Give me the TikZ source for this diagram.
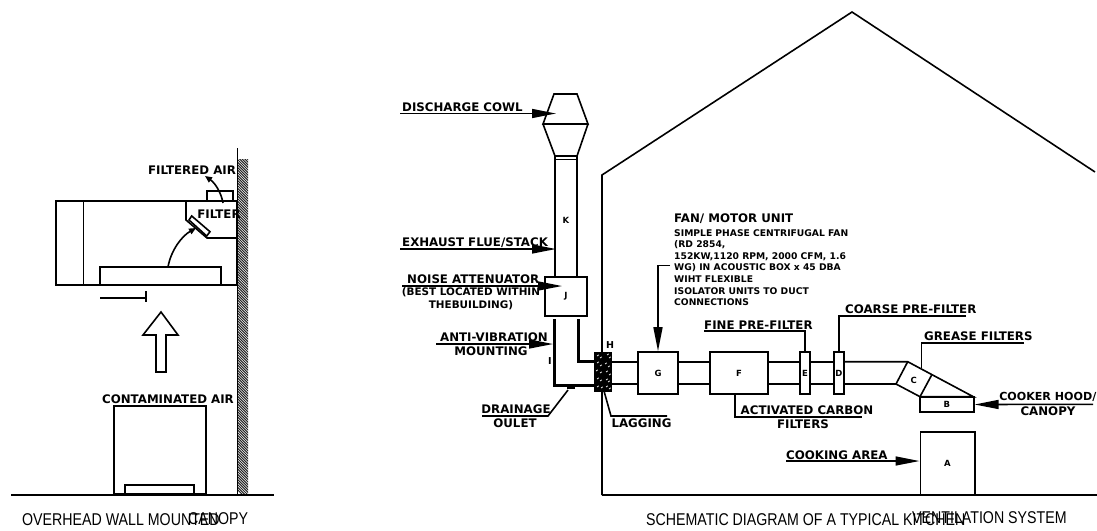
\documentclass[tikz,border=0pt]{standalone}
\usepackage{fontspec}
\setmainfont{DejaVu Sans}
\newfontfamily\capfont{Liberation Sans}
\usetikzlibrary{arrows.meta}
\newcommand{\captxt}[1]{\scalebox{1}[1.2]{#1}}
\tikzset{
  x=1pt,y=-1pt,
  ln/.style={line width=1.6pt,black},
  thinln/.style={line width=1.1pt,black},
  thickduct/.style={line width=3pt,black},
  boxn/.style={draw,line width=1.6pt,fill=white,inner sep=0pt,font=\bfseries\fontsize{8.5}{9}\selectfont},
  letter/.style={inner sep=0pt,font=\bfseries\fontsize{8.5}{9}\selectfont},
  bigletter/.style={inner sep=0pt,font=\bfseries\fontsize{9.5}{10}\selectfont},
  lab/.style={inner sep=0pt,font=\bfseries\fontsize{11.8}{14}\selectfont,align=center},
  cookerlab/.style={inner sep=0pt,font=\bfseries\fontsize{11.1}{14}\selectfont,align=center},
  smalllab/.style={inner sep=0pt,font=\bfseries\fontsize{9.2}{11.6}\selectfont,align=left,anchor=north west},
  midlab/.style={inner sep=0pt,font=\bfseries\fontsize{10.4}{13}\selectfont,align=center},
  captext/.style={inner sep=0pt,font=\capfont\fontsize{14.2}{16}\selectfont},
  pointer/.style={line width=1.6pt,-{Triangle[length=24pt,width=9pt]}},
  curvedarrow/.style={line width=1.6pt,-{Triangle[length=7pt,width=6pt]}},
}
\begin{document}
\begin{tikzpicture}
\useasboundingbox (0,0) rectangle (1097,530);
% ---------- left: wall canopy ----------
\begin{scope}
\clip (238,159) rectangle (248,494);
\foreach \i in {0,2.6,...,345}{\draw[line width=1pt,black!85] (236,{145+\i}) -- (250,{159+\i});}
\end{scope}
\coordinate (wtop) at (237.5,148);
\coordinate (wbot) at (237.5,494);
\draw[ln] (wtop) -- (wbot);
\coordinate (fl) at (11,495);
\coordinate (fr) at (274,495);
\draw[line width=1.7pt] (fl) -- (fr);
\node[draw,line width=1.6pt,minimum width=181pt,minimum height=84pt,inner sep=0pt] (canopy) at (146.5,243) {};
\coordinate (cv1) at (83.5,201);
\coordinate (cv2) at (83.5,285);
\draw[ln] (cv1) -- (cv2);
\node[draw,line width=1.6pt,minimum width=121pt,minimum height=18pt,inner sep=0pt] (hood) at (160.5,276) {};
\node[draw,line width=1.6pt,minimum width=26pt,minimum height=10pt,inner sep=0pt] (outlet) at (220,196) {};
\coordinate (d1) at (186,201);
\coordinate (d2) at (186,220);
\coordinate (d3) at (207,238);
\coordinate (d4) at (237,238);
\draw[ln] (d1) -- (d2) -- (d3) -- (d4);
\draw[ln,fill=white] (191.7,216) -- (210,231.7) -- (206.7,236) -- (189,220) -- cycle;
\coordinate (a1) at (168,267);
\coordinate (a2) at (196,228);
\draw[curvedarrow] (a1) .. controls (171,250) and (182,236) .. (a2);
\coordinate (a3) at (223,203);
\coordinate (a4) at (205,176);
\draw[curvedarrow] (a3) .. controls (221,192) and (215,183) .. (a4);
\coordinate (t1) at (100,298);
\coordinate (t2) at (146,298);
\coordinate (t3) at (146,291);
\coordinate (t4) at (146,302);
\draw[ln] (t1) -- (t2);
\draw[thinln] (t3) -- (t4);
\draw[ln] (161,312) -- (178,335) -- (166,335) -- (166,372) -- (156,372) -- (156,335) -- (143,335) -- cycle;
\node[draw,line width=1.6pt,minimum width=91.5pt,minimum height=88pt,inner sep=0pt] (stove) at (160,450) {};
\node[draw,line width=1.6pt,minimum width=69pt,minimum height=9pt,inner sep=0pt] (stovebase) at (159.5,489.5) {};
\node[lab] (lfa) at (192,170) {FILTERED AIR};
\node[lab] (lf) at (219,214) {FILTER};
\node[lab] (lca) at (168,399) {CONTAMINATED AIR};
\node[captext,anchor=west] (c1) at (22,520) {\captxt{OVERHEAD WALL MOUNTED}};
\node[captext,anchor=west] (c2) at (188,519) {\captxt{CANOPY}};
% ---------- right: building ----------
\coordinate (h1) at (602,495);
\coordinate (h2) at (602,175);
\coordinate (h3) at (852,12);
\coordinate (h4) at (1095,172);
\coordinate (h5) at (1097,495);
\draw[ln] (h4) -- (h3) -- (h2) -- (h1);
\draw[line width=1.7pt] (h1) -- (h5);
% cowl and flue
\draw[ln] (554,94) -- (577,94) -- (588,124) -- (543,124) -- cycle;
\draw[ln] (543,124) -- (555,156) -- (577,156) -- (588,124);
\coordinate (fa) at (555,156);
\coordinate (fb) at (577,156);
\coordinate (fc) at (555,277);
\coordinate (fd) at (577,277);
\coordinate (fe) at (555,159.5);
\coordinate (ff) at (577,159.5);
\draw[ln] (fa) -- (fc);
\draw[ln] (fb) -- (fd);
\draw[ln] (fe) -- (ff);
\node[letter] (K) at (566,220) {K};
% J
\node[boxn,minimum width=42pt,minimum height=39pt] (J) at (566,296.5) {J};
% thick duct
\coordinate (i1) at (554,319);
\coordinate (i2) at (554,385);
\coordinate (i3) at (578,319);
\coordinate (i4) at (578,361);
\coordinate (i5) at (594,361);
\coordinate (i6) at (594,385);
\draw[thickduct] (i1) -- (i2) -- (i6);
\draw[thickduct] (i3) -- (i4) -- (i5);
\node[bigletter] (I) at (550,361) {I};
\node[bigletter] (H) at (610,345) {H};
% lagging
\node[draw=black,fill=black,minimum width=17pt,minimum height=39pt,inner sep=0pt] (lag) at (602.5,371.5) {};
\foreach \x/\y in {597/356,600/358,607/355,609/358,597/363,600/366,605/364,608/367,596/371,600/373,606/372,609/375,597/379,600/381,606/380,608/382,597/387,601/388,606/387,609/389}{
  \draw[white,line width=.7pt] (\x,\y) -- ++(1.8,-1.2);
}
% drain
\node[fill=black,minimum width=8pt,minimum height=3pt,inner sep=0pt] (drain) at (571,387.5) {};
% duct run
\node[boxn,minimum width=40pt,minimum height=42pt] (G) at (658,373) {G};
\node[boxn,minimum width=58pt,minimum height=42pt] (F) at (739,373) {F};
\node[boxn,minimum width=10pt,minimum height=42pt] (E) at (805,373) {E};
\node[boxn,minimum width=10pt,minimum height=42pt] (D) at (839,373) {D};
\foreach \y in {362,384}{
  \draw[ln] (611,\y) -- (638,\y);
  \draw[ln] (678,\y) -- (710,\y);
  \draw[ln] (768,\y) -- (800,\y);
  \draw[ln] (810,\y) -- (834,\y);
}
\coordinate (ct) at (907.7,361.7);
\coordinate (cb) at (896,384);
\coordinate (cc) at (920,396.7);
\coordinate (cd) at (931.7,375);
\coordinate (ce) at (973.3,396.7);
\coordinate (dt) at (844,361.7);
\coordinate (db) at (844,384);
\draw[ln] (dt) -- (ct) -- (ce) -- (cc) -- (cb) -- (db);
\draw[ln] (ct) -- (cb);
\draw[ln] (cc) -- (cd);
\node[letter] (C) at (913.7,380) {C};
\node[boxn,minimum width=54pt,minimum height=15pt] (B) at (946.8,404.5) {B};
\node[boxn,minimum width=54.4pt,minimum height=63pt] (A) at (947.5,463.5) {A};
% labels + leaders
\node[lab,anchor=west] (t1a) at (402,107) {DISCHARGE COWL};
\coordinate (p1) at (400,113.5);
\coordinate (q1) at (556,113.5);
\draw[pointer] (p1) -- (q1);
\node[lab,anchor=west] (t2a) at (402,243) {EXHAUST FLUE/STACK};
\coordinate (p2) at (400,249);
\coordinate (q2) at (556,249);
\draw[pointer] (p2) -- (q2);
\node[lab,anchor=west] (t3a) at (407,279) {NOISE ATTENUATOR};
\node[midlab] (t3b) at (471,299) {(BEST LOCATED WITHIN\\THEBUILDING)};
\coordinate (p3) at (402,286);
\coordinate (q3) at (562,286);
\draw[pointer] (p3) -- (q3);
\node[lab] (t4a) at (494,337) {ANTI-VIBRATION};
\node[lab] (t4b) at (491,351) {MOUNTING};
\coordinate (p4) at (436,344);
\coordinate (q4) at (553,344);
\draw[pointer] (p4) -- (q4);
\node[lab] (t5a) at (516,409) {DRAINAGE};
\node[lab] (t5b) at (515,423) {OULET};
\coordinate (p5) at (482,416);
\coordinate (q5) at (548,416);
\coordinate (r5) at (568,390);
\draw[ln] (p5) -- (q5) -- (r5);
\node[lab] (t6) at (641.5,423) {LAGGING};
\coordinate (p6) at (667,416);
\coordinate (q6) at (611,416);
\coordinate (r6) at (604,391);
\draw[ln] (p6) -- (q6) -- (r6);
\node[lab,anchor=west] (t7) at (674,219) {FAN/ MOTOR UNIT};
\node[smalllab] (t8) at (674,229) {SIMPLE PHASE CENTRIFUGAL FAN\\(RD 2854,\\152KW,1120 RPM, 2000 CFM, 1.6\\WG) IN ACOUSTIC BOX x 45 DBA\\WIHT FLEXIBLE\\ISOLATOR UNITS TO DUCT\\CONNECTIONS};
\coordinate (p7) at (670,265.5);
\coordinate (q7) at (658,265.5);
\draw[pointer] (p7) -- (q7) -- (G.north);
\node[lab,anchor=west] (t9) at (704,325) {FINE PRE-FILTER};
\coordinate (p8) at (704,331);
\coordinate (q8) at (805,331);
\draw[ln] (p8) -- (q8) -- (E.north);
\node[lab,anchor=west] (t10) at (845,309) {COARSE PRE-FILTER};
\coordinate (p9) at (966,316);
\coordinate (q9) at (839,316);
\draw[ln] (p9) -- (q9) -- (D.north);
\node[lab] (t11) at (807,410) {ACTIVATED CARBON};
\node[lab] (t12) at (803,424) {FILTERS};
\coordinate (p10) at (861.7,417);
\coordinate (q10) at (734.7,417);
\coordinate (r10) at (734.7,394);
\draw[ln] (p10) -- (q10) -- (r10);
\node[lab,anchor=west] (t13) at (924,336) {GREASE FILTERS};
\coordinate (p11) at (1024,342.7);
\coordinate (q11) at (921.3,342.7);
\coordinate (r11) at (921.3,368);
\draw[ln] (p11) -- (q11) -- (r11);
\node[cookerlab,anchor=east] (t14) at (1096.5,397) {COOKER HOOD/};
\node[lab] (t15) at (1048,411) {CANOPY};
\coordinate (p12) at (1093,404.3);
\draw[pointer] (p12) -- (B.east);
\node[lab,anchor=west] (t16) at (786,455) {COOKING AREA};
\coordinate (p13) at (786,461);
\draw[pointer] (p13) -- (A.west |- p13);
\node[captext,anchor=west] (c3) at (646,520) {\captxt{SCHEMATIC DIAGRAM OF A TYPICAL KITCHEN}};
\node[captext,anchor=west] (c4) at (912,518) {\captxt{VENTILATION SYSTEM}};
\end{tikzpicture}
\end{document}
